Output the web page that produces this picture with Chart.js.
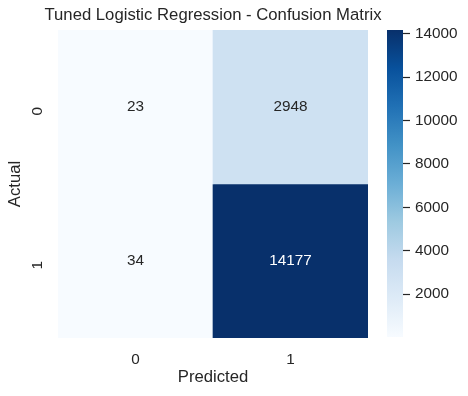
<!DOCTYPE html>
<html>
<head>
<meta charset="utf-8">
<script src="https://cdn.jsdelivr.net/npm/chart.js@4"></script>
<style>
  html, body { margin: 0; padding: 0; background: #fff; }
  #wrap { position: relative; width: 468px; height: 396px; }
  #wrap canvas { position: absolute; left: 0; top: 0; }
</style>
</head>
<body>
<div id="wrap">
  <canvas id="cm" width="426" height="396"></canvas>
  <canvas id="cbar" width="468" height="396"></canvas>
</div>
<script>
// confusion matrix values
const predictedLabels = ['0', '1'];
const actualLabels = ['0', '1'];
const actual0 = [23, 2948];
const actual1 = [34, 14177];
const colorbarTicks = [2000, 4000, 6000, 8000, 10000, 12000, 14000];
const chartTitle = 'Tuned Logistic Regression - Confusion Matrix';

const rows = [actual0, actual1];
const vmin = Math.min(...actual0, ...actual1);
const vmax = Math.max(...actual0, ...actual1);

// matplotlib "Blues"
const blues = [[247,251,255],[222,235,247],[198,219,239],[158,202,225],[107,174,214],[66,146,198],[33,113,181],[8,81,156],[8,48,107]];
function bluesAt(t) {
    t = Math.max(0, Math.min(1, t));
    const p = t * (blues.length - 1);
    const i = Math.min(Math.floor(p), blues.length - 2);
    const f = p - i;
    return blues[i].map((v, k) => Math.round(v + (blues[i + 1][k] - v) * f));
}
const norm = v => (v - vmin) / (vmax - vmin);
const rgb = c => 'rgb(' + c.join(',') + ')';

const FONT = '"Liberation Sans", Arial, sans-serif';
const INK = '#262626';
Chart.defaults.font.family = FONT;
Chart.defaults.color = INK;

const cellDatasets = rows.map((vals, r) => ({
    label: 'Actual ' + actualLabels[r],
    data: vals.map(() => [r, r + 1]),
    backgroundColor: vals.map(v => rgb(bluesAt(norm(v)))),
    borderWidth: 0,
    barPercentage: 1,
    categoryPercentage: 1,
    grouped: false
}));

// cell numbers + title centred over the heatmap (like matplotlib)
const annotate = {
    id: 'annotate',
    afterDatasetsDraw(chart) {
        const ctx = chart.ctx;
        const xs = chart.scales.x, ys = chart.scales.y;
        const area = chart.chartArea;
        ctx.save();
        ctx.textAlign = 'center';
        ctx.textBaseline = 'middle';
        ctx.font = '15.3px ' + FONT;
        rows.forEach((vals, r) => {
            vals.forEach((v, c) => {
                const col = bluesAt(norm(v));
                const lum = (0.2126 * col[0] + 0.7152 * col[1] + 0.0722 * col[2]) / 255;
                ctx.fillStyle = lum < 0.408 ? '#ffffff' : INK;
                ctx.fillText(String(v), xs.getPixelForValue(c), ys.getPixelForValue(r + 0.5));
            });
        });
        ctx.fillStyle = INK;
        ctx.font = '16.7px ' + FONT;
        ctx.fillText(chartTitle, (area.left + area.right) / 2, 15);
        ctx.restore();
    }
};

new Chart(document.getElementById('cm'), {
    type: 'bar',
    data: { labels: predictedLabels, datasets: cellDatasets },
    options: {
        responsive: false,
        animation: false,
        layout: { padding: { right: 58, top: 30 } },
        plugins: {
            legend: { display: false },
            tooltip: { enabled: false }
        },
        scales: {
            x: {
                grid: { display: false, drawTicks: false },
                border: { display: false },
                ticks: { padding: 13, font: { size: 15.3 }, color: INK },
                title: { display: true, text: 'Predicted', color: INK, font: { size: 16.7 }, padding: { top: 0, bottom: 9 } },
                afterFit(s) { s.height = 58; }
            },
            y: {
                min: 0, max: 2, reverse: true,
                grid: { display: false, drawTicks: false },
                border: { display: false },
                afterBuildTicks(s) { s.ticks = actualLabels.map((l, i) => ({ value: i + 0.5 })); },
                ticks: {
                    minRotation: 90, maxRotation: 90, padding: 20,
                    font: { size: 15.3 }, color: INK,
                    callback: (v) => actualLabels[Math.floor(v)]
                },
                title: { display: true, text: 'Actual', color: INK, font: { size: 16.7 }, padding: { top: 5, bottom: 0 } },
                afterFit(s) { s.width = 58; }
            }
        }
    },
    plugins: [annotate]
});

// colorbar
new Chart(document.getElementById('cbar'), {
    type: 'bar',
    data: {
        labels: [''],
        datasets: [{
            data: [[vmin, vmax]],
            borderWidth: 0,
            barPercentage: 1,
            categoryPercentage: 1,
            backgroundColor(context) {
                const chart = context.chart;
                if (!chart.chartArea) return rgb(blues[4]);
                const y = chart.scales.y;
                const g = chart.ctx.createLinearGradient(0, y.getPixelForValue(vmin), 0, y.getPixelForValue(vmax));
                blues.forEach((c, i) => g.addColorStop(i / (blues.length - 1), rgb(c)));
                return g;
            }
        }]
    },
    options: {
        responsive: false,
        animation: false,
        layout: { padding: { left: 387, top: 30, bottom: 59, right: 0 } },
        plugins: { legend: { display: false }, tooltip: { enabled: false } },
        scales: {
            x: { display: false },
            y: {
                position: 'right',
                min: vmin, max: vmax,
                border: { display: false },
                grid: { drawOnChartArea: false, drawTicks: true, tickLength: 7, tickColor: INK, tickWidth: 1.2 },
                afterBuildTicks(s) { s.ticks = colorbarTicks.map(v => ({ value: v })); },
                ticks: { padding: 5, font: { size: 15.3 }, color: INK, callback: v => String(v) },
                afterFit(s) { s.width = 65; }
            }
        }
    }
});
</script>
</body>
</html>
